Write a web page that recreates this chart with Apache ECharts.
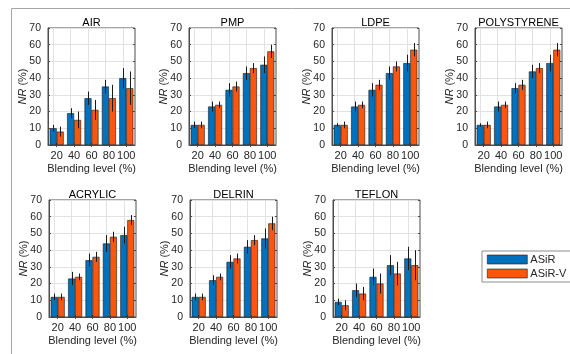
<!DOCTYPE html>
<html><head><meta charset="utf-8">
<script src="https://cdn.jsdelivr.net/npm/echarts@6/dist/echarts.min.js"></script>
<style>html,body{margin:0;padding:0;background:#fff}#c{width:570px;height:354px}</style>
</head><body><div id="c"></div>
<script>
const categories = ['20','40','60','80','100'];
const panelNames = ['AIR','PMP','LDPE','POLYSTYRENE','ACRYLIC','DELRIN','TEFLON'];
const seriesNames = ['ASiR','ASiR-V'];
const yTicks = [0,10,20,30,40,50,60,70];
// mean NR (%) per panel
const asirValues = [
  [10,19,28,35,40],
  [12,23,33,43,48],
  [12,23,33,43,49],
  [12,23,34,44,49],
  [12,23,34,44,49],
  [12,22,33,42,47],
  [9,16,24,31,35]
];
const asirVValues = [
  [8,15,21,28,34],
  [12,24,35,46,56],
  [12,24,36,47,57],
  [12,24,36,46,57],
  [12,24,36,48,58],
  [12,24,35,46,56],
  [7,14,20,26,31]
];
// error half-widths
const asirErrors = [
  [2,3,4,4,6],
  [2,3,4,4,5],
  [1,3,4,4,5],
  [1,3,3,4,5],
  [2,4,4,5,5],
  [2,3,4,4,6],
  [2,4,5,6,7]
];
const asirVErrors = [
  [3,5,6,8,10],
  [2,2,3,3,4],
  [2,2,3,3,4],
  [2,2,3,3,4],
  [2,2,3,3,3],
  [2,2,3,3,4],
  [3,4,6,7,9]
];

const BLUE = '#0072BD', ORANGE = '#F9560F';
const AX = '#4d4d4d', GRIDC = '#e2e2e2', TXT = '#262626';
const FONT = 'Liberation Sans, Arial, sans-serif';
const BW = 7;

const lefts = [48,189,332,475,49,190,333];
const tops = [28,28,28,28,200,200,200];
const W = 87, H = 117;

const grid = [], xAxis = [], yAxis = [], series = [], title = [];
panelNames.forEach((name, p) => {
  grid.push({left: lefts[p], top: tops[p], width: W, height: H, show: true, borderColor: AX, borderWidth: 1, backgroundColor: 'transparent'});
  title.push({text: name, left: lefts[p] + W/2, top: tops[p] - 11, textAlign: 'center', padding: 0,
    textStyle: {fontSize: 11, fontWeight: 'normal', color: '#000', fontFamily: FONT}});
  xAxis.push({type: 'category', gridIndex: p, data: categories, boundaryGap: true,
    axisLine: {show: true, lineStyle: {color: AX}}, axisTick: {show: true, inside: true, alignWithLabel: true, length: 2, lineStyle: {color: AX}},
    axisLabel: {fontSize: 11, color: TXT, fontFamily: FONT, margin: 5, interval: 0, hideOverlap: false},
    name: 'Blending level (%)', nameLocation: 'middle', nameGap: 18,
    nameTextStyle: {fontSize: 11, color: TXT, fontFamily: FONT}, splitLine: {show: false}});
  xAxis.push({type: 'category', gridIndex: p, data: categories, position: 'top', boundaryGap: true,
    axisLine: {show: false}, axisTick: {show: true, inside: true, alignWithLabel: true, length: 2, interval: 0, lineStyle: {color: AX}},
    axisLabel: {show: false}, splitLine: {show: false}});
  yAxis.push({type: 'value', gridIndex: p, min: 0, max: 70, interval: 10,
    axisLine: {show: true, lineStyle: {color: AX}}, axisTick: {show: true, inside: true, length: 2, lineStyle: {color: AX}},
    axisLabel: {fontSize: 10.5, color: TXT, fontFamily: FONT, margin: 7},
    splitLine: {show: true, lineStyle: {color: GRIDC, width: 1}},
    name: '{i|NR} (%)', nameLocation: 'middle', nameGap: 20, nameRotate: 90, nameMoveOverlap: false,
    nameTextStyle: {fontSize: 11, color: TXT, fontFamily: FONT, rich: {i: {fontStyle: 'italic', fontSize: 11, color: TXT, fontFamily: FONT}}}});
  yAxis.push({type: 'value', gridIndex: p, min: 0, max: 70, interval: 10, position: 'right',
    axisLine: {show: false}, axisTick: {show: true, inside: true, length: 2, lineStyle: {color: AX}},
    axisLabel: {show: false}, splitLine: {show: false}});
  const xi = 2*p, yi = 2*p;
  const vals = [asirValues[p], asirVValues[p]];
  const errs = [asirErrors[p], asirVErrors[p]];
  const cols = [BLUE, ORANGE];
  vals.forEach((v, s) => {
    const ser = {type: 'bar', name: seriesNames[s], xAxisIndex: xi, yAxisIndex: yi, data: v,
      barWidth: BW, barGap: '0%', itemStyle: {color: cols[s], borderColor: '#1a1a1a', borderWidth: 0.6}, z: 2};
    if (s === 0) {
      ser.markLine = {silent: true, symbol: 'none', z: 1, label: {show: false},
        lineStyle: {color: GRIDC, type: 'solid', width: 1}, animation: false,
        data: categories.map(c => ({xAxis: c}))};
    }
    series.push(ser);
  });
  vals.forEach((v, s) => {
    const off = s === 0 ? -BW/2 : BW/2;
    series.push({type: 'custom', xAxisIndex: xi, yAxisIndex: yi, z: 3, silent: true,
      data: v.map((m, i) => [i, m - errs[s][i], m + errs[s][i]]),
      renderItem: (params, api) => {
        const a = api.coord([api.value(0), api.value(1)]);
        const b = api.coord([api.value(0), api.value(2)]);
        const x = Math.round(a[0] + off) + 0.5;
        return {type: 'line', shape: {x1: x, y1: a[1], x2: x, y2: b[1]}, style: {stroke: '#1a1a1a', lineWidth: 1}};
      }});
  });
});

const chart = echarts.init(document.getElementById('c'), null, {renderer: 'canvas'});
chart.setOption({
  animation: false,
  textStyle: {fontFamily: FONT},
  title, grid, xAxis, yAxis, series,
  legend: {show: true, orient: 'vertical', left: 482, top: 251, data: seriesNames,
    icon: 'rect', itemWidth: 40, itemHeight: 9, itemGap: 3,
    borderColor: '#8c8c8c', borderWidth: 1, padding: [3, 7, 3, 5],
    backgroundColor: '#fff',
    itemStyle: {borderColor: '#1a1a1a', borderWidth: 0.6},
    textStyle: {fontSize: 11, color: TXT, fontFamily: FONT, padding: [0,0,0,-2]}},
  graphic: [{type: 'rect', silent: true, z: 0, shape: {x: 11.5, y: 8.5, width: 700, height: 500},
    style: {fill: 'none', stroke: '#a6a6a6', lineWidth: 1}}]
});
</script></body></html>
